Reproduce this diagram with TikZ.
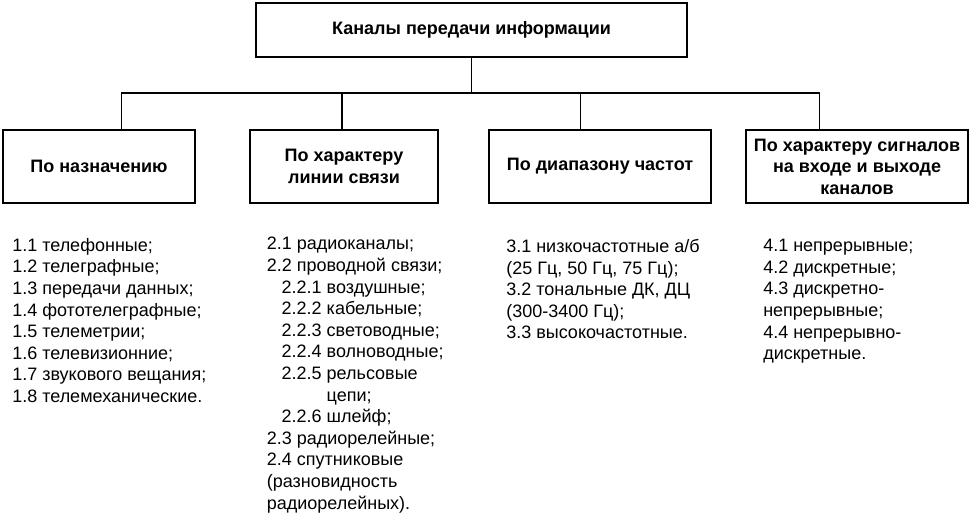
\documentclass[tikz,border=0pt]{standalone}
\usepackage{fontspec}
\setmainfont{Liberation Sans}
\usepackage{tikz}
\usetikzlibrary{calc}

\newcommand{\diagfont}{\fontsize{13.5}{16.2}\selectfont}

\tikzset{
  catbox/.style={draw,line width=1pt,align=center,font={\diagfont\bfseries},inner sep=2pt},
  itemlist/.style={anchor=north west,align=left,inner sep=0pt},
}

\begin{document}
\begin{tikzpicture}[x=0.75pt,y=-0.75pt,every node/.style={font=\diagfont}]
  \useasboundingbox (0,0) rectangle (969,516);
  % root and the four groups (sizes in pt = px*0.75)
  \node[catbox,minimum width=323.25pt,minimum height=40.5pt] (root) at (471.5,30) {Каналы передачи информации};
  \node[catbox,minimum width=144pt,minimum height=54.75pt] (purpose) at (99,166.5) {По назначению};
  \node[catbox,minimum width=141pt,minimum height=54.75pt] (line) at (344,166.5) {По характеру\\линии связи};
  \node[catbox,minimum width=166.5pt,minimum height=54.75pt] (band) at (600,166.5) {По диапазону частот};
  \node[catbox,minimum width=166.5pt,minimum height=54.75pt] (signal) at (857,166.5) {По характеру сигналов\\на входе и выходе\\каналов};
  % connectors
  \coordinate (bus) at (471.5,93);
  \draw[line width=1pt] (root.south) -- (bus);
  \foreach \n/\f in {purpose/.615,line/.49,band/.414,signal/.333}
    \draw[line width=1pt] (bus) -| ($(\n.north west)!\f!(\n.north east)$);
  % item lists
  \node[itemlist] (list1) at (12,238) {1.1 телефонные;\\1.2 телеграфные;\\1.3 передачи данных;\\1.4 фототелеграфные;\\1.5 телеметрии;\\1.6 телевизионние;\\1.7 звукового вещания;\\1.8 телемеханические.};
  \node[itemlist] (list2) at (266.5,237) {2.1 радиоканалы;\\2.2 проводной связи;\\
    \hspace*{0.83em}2.2.1 воздушные;\\\hspace*{0.83em}2.2.2 кабельные;\\
    \hspace*{0.83em}2.2.3 световодные;\\\hspace*{0.83em}2.2.4 волноводные;\\
    \hspace*{0.83em}2.2.5 рельсовые\\\hspace*{0.83em}\phantom{2.2.5 }цепи;\\
    \hspace*{0.83em}2.2.6 шлейф;\\2.3 радиорелейные;\\2.4 спутниковые\\(разновидность\\радиорелейных).};
  \node[itemlist] (list3) at (506,239) {3.1 низкочастотные а/б\\(25 Гц, 50 Гц, 75 Гц);\\3.2 тональные ДК, ДЦ\\(300-3400 Гц);\\3.3 высокочастотные.};
  \node[itemlist] (list4) at (763,239) {4.1 непрерывные;\\4.2 дискретные;\\4.3 дискретно-\\непрерывные;\\4.4 непрерывно-\\дискретные.};
\end{tikzpicture}
\end{document}
